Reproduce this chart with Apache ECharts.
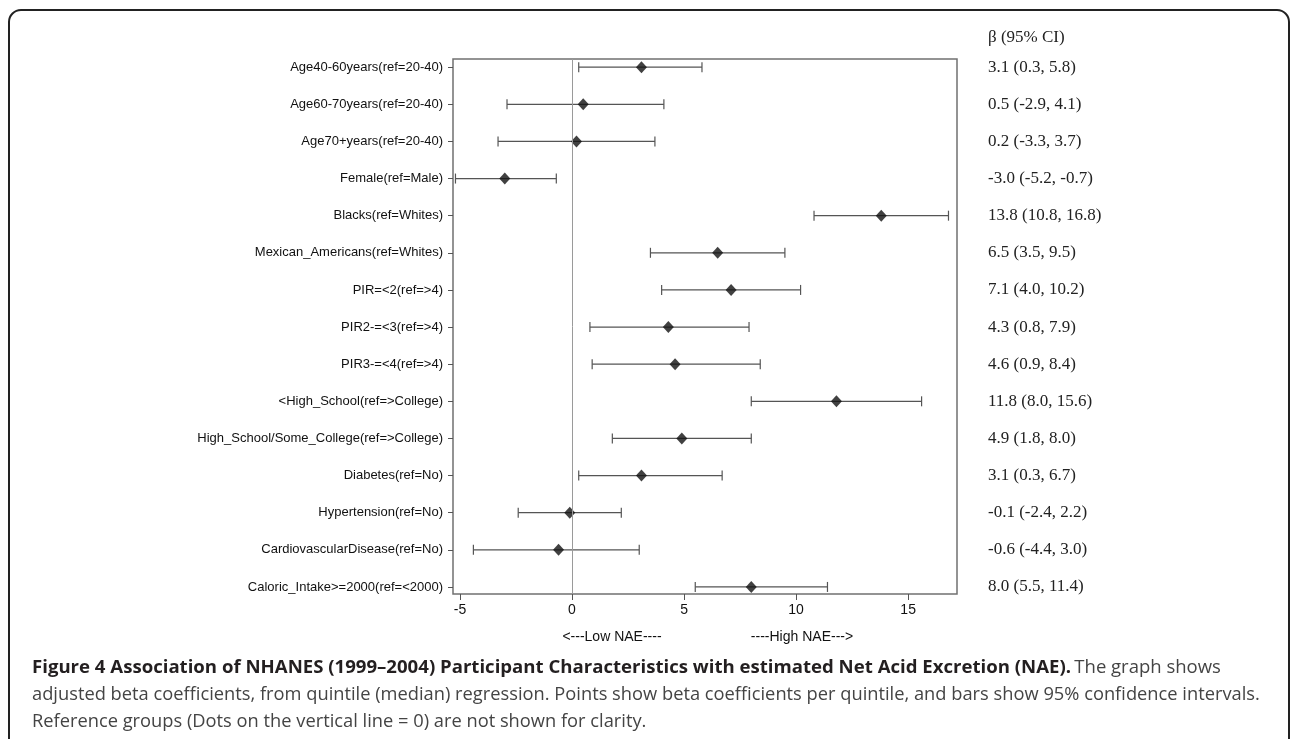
<!DOCTYPE html>
<html>
<head>
<meta charset="utf-8">
<title>Figure 4 - NAE forest plot</title>
<script src="https://cdn.jsdelivr.net/npm/echarts@6/dist/echarts.min.js"></script>
<style>
  html, body { margin: 0; padding: 0; background: #fff; }
  #chart { width: 1292px; height: 739px; }
</style>
</head>
<body>
<div id="chart"></div>
<script>
// row labels, top to bottom
const labels = [
  "Age40-60years(ref=20-40)",
  "Age60-70years(ref=20-40)",
  "Age70+years(ref=20-40)",
  "Female(ref=Male)",
  "Blacks(ref=Whites)",
  "Mexican_Americans(ref=Whites)",
  "PIR=<2(ref=>4)",
  "PIR2-=<3(ref=>4)",
  "PIR3-=<4(ref=>4)",
  "<High_School(ref=>College)",
  "High_School/Some_College(ref=>College)",
  "Diabetes(ref=No)",
  "Hypertension(ref=No)",
  "CardiovascularDisease(ref=No)",
  "Caloric_Intake>=2000(ref=<2000)"
];
// beta and 95% CI
const beta  = [3.1, 0.5, 0.2, -3.0, 13.8, 6.5, 7.1, 4.3, 4.6, 11.8, 4.9, 3.1, -0.1, -0.6, 8.0];
const lower = [0.3, -2.9, -3.3, -5.2, 10.8, 3.5, 4.0, 0.8, 0.9, 8.0, 1.8, 0.3, -2.4, -4.4, 5.5];
const upper = [5.8, 4.1, 3.7, -0.7, 16.8, 9.5, 10.2, 7.9, 8.4, 15.6, 8.0, 6.7, 2.2, 3.0, 11.4];
const xTicks = [-5, 0, 5, 10, 15];

const rows = labels.map((_, i) => i);
const ciText = rows.map(i =>
  beta[i].toFixed(1) + " (" + lower[i].toFixed(1) + ", " + upper[i].toFixed(1) + ")");

const chart = echarts.init(document.getElementById("chart"));

const sans = "Liberation Sans";
const serif = "Liberation Serif";
const capFont = "'Open Sans'";

const rowAxis = {
  type: "value",
  inverse: true,
  min: -0.22,
  max: 14.19,
  splitLine: { show: false },
  axisLine: { show: false, onZero: false }
};

const option = {
  animation: false,
  backgroundColor: "#fff",
  grid: {
    left: 453, right: 335, top: 59, bottom: 145,
    show: true,
    borderColor: "#707070",
    borderWidth: 1.5,
    backgroundColor: "transparent"
  },
  xAxis: {
    type: "value",
    min: -5.31,
    max: 17.18,
    splitLine: { show: false },
    axisLine: { show: false, onZero: false },
    axisTick: { show: true, customValues: xTicks, length: 6, lineStyle: { color: "#555" } },
    axisLabel: {
      customValues: xTicks, margin: 9,
      fontFamily: sans, fontSize: 14, color: "#111"
    }
  },
  yAxis: [
    Object.assign({}, rowAxis, {
      position: "left",
      axisTick: { show: true, customValues: rows, length: 5, lineStyle: { color: "#555" } },
      axisLabel: {
        customValues: rows, margin: 10,
        fontFamily: sans, fontSize: 13, color: "#111",
        formatter: v => labels[Math.round(v)]
      }
    }),
    Object.assign({}, rowAxis, {
      position: "right",
      axisTick: { show: false },
      axisLabel: {
        customValues: rows, margin: 31, align: "left",
        fontFamily: serif, fontSize: 17, color: "#222",
        formatter: v => ciText[Math.round(v)]
      }
    })
  ],
  series: [
    {
      // 95% CI bars with end caps
      type: "custom",
      yAxisIndex: 0,
      data: rows.map(i => [lower[i], upper[i], i]),
      renderItem: (params, api) => {
        const a = api.coord([api.value(0), api.value(2)]);
        const b = api.coord([api.value(1), api.value(2)]);
        const h = 5;
        const style = { stroke: "#555", lineWidth: 1.2 };
        return {
          type: "group",
          children: [
            { type: "line", shape: { x1: a[0], y1: a[1], x2: b[0], y2: b[1] }, style },
            { type: "line", shape: { x1: a[0], y1: a[1] - h, x2: a[0], y2: a[1] + h }, style },
            { type: "line", shape: { x1: b[0], y1: b[1] - h, x2: b[0], y2: b[1] + h }, style }
          ]
        };
      },
      z: 2
    },
    {
      type: "scatter",
      yAxisIndex: 0,
      data: rows.map(i => [beta[i], i]),
      symbol: "diamond",
      symbolSize: [11, 12],
      itemStyle: { color: "#111" },
      z: 3,
      markLine: {
        silent: true,
        symbol: "none",
        label: { show: false },
        lineStyle: { color: "#9a9a9a", width: 1, type: "solid" },
        data: [{ xAxis: 0 }]
      }
    }
  ],
  graphic: [
    {
      type: "rect",
      shape: { x: 9, y: 10, width: 1280, height: 745, r: 12 },
      style: { fill: "none", stroke: "#222", lineWidth: 2 },
      silent: true
    },
    {
      type: "text", left: 988, top: 29,
      style: { text: "\u03b2 (95% CI)", font: "17px " + serif, fill: "#222" }
    },
    {
      type: "text", x: 612, y: 637,
      style: { text: "<---Low NAE----", font: "14px " + sans, fill: "#111", align: "center", verticalAlign: "middle" }
    },
    {
      type: "text", x: 802, y: 637,
      style: { text: "----High NAE--->", font: "14px " + sans, fill: "#111", align: "center", verticalAlign: "middle" }
    },
    {
      type: "text", x: 32, y: 668,
      style: {
        text: "{b|Figure 4 Association of NHANES (1999\u20132004) Participant Characteristics with estimated Net Acid Excretion (NAE).} {r|The graph shows}",
        verticalAlign: "middle",
        rich: {
          b: { font: "bold 18.6px " + capFont, fill: "#231f20" },
          r: { font: "18.5px " + capFont, fill: "#444" }
        }
      }
    },
    {
      type: "text", x: 32, y: 695,
      style: {
        text: "adjusted beta coefficients, from quintile (median) regression. Points show beta coefficients per quintile, and bars show 95% confidence intervals.",
        font: "18.3px " + capFont, fill: "#444", verticalAlign: "middle"
      }
    },
    {
      type: "text", x: 32, y: 722,
      style: {
        text: "Reference groups (Dots on the vertical line = 0) are not shown for clarity.",
        font: "18.3px " + capFont, fill: "#444", verticalAlign: "middle"
      }
    }
  ]
};

chart.setOption(option);
</script>
</body>
</html>
